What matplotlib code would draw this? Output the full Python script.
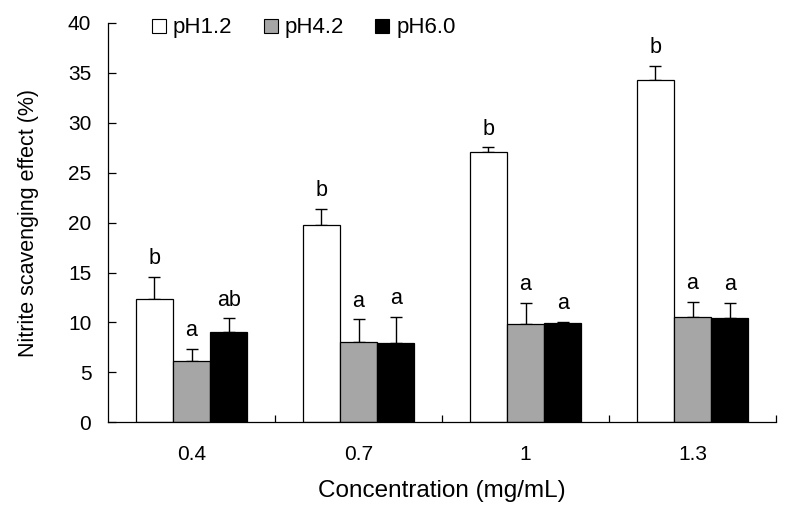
import matplotlib
matplotlib.use("Agg")
import matplotlib.pyplot as plt
import numpy as np
from matplotlib.lines import Line2D

plt.rcParams['font.family'] = ['Liberation Sans', 'DejaVu Sans']

categories = ['0.4', '0.7', '1', '1.3']
series = ['pH1.2', 'pH4.2', 'pH6.0']
ph12 = [12.4, 19.8, 27.1, 34.3]
ph42 = [6.1, 8.0, 9.8, 10.5]
ph60 = [9.05, 7.9, 9.95, 10.4]
err12 = [2.2, 1.6, 0.45, 1.4]
err42 = [1.25, 2.3, 2.15, 1.55]
err60 = [1.35, 2.65, 0.1, 1.55]
let12 = ['b', 'b', 'b', 'b']
let42 = ['a', 'a', 'a', 'a']
let60 = ['ab', 'a', 'a', 'a']
colors = ['white', '#A6A6A6', 'black']

fig = plt.figure(figsize=(7.93, 5.17), dpi=100)
ax = fig.add_axes([108/793, 1-422.3/517, (776-108)/793, (422.3-23)/517])

x = np.arange(len(categories))
w = 1/4.5
vals = [ph12, ph42, ph60]
errs = [err12, err42, err60]
lets = [let12, let42, let60]
for i in range(3):
    xs = x + (i-1)*w
    ax.bar(xs, vals[i], width=w, color=colors[i], edgecolor='black', linewidth=0.9, zorder=2)
    ax.errorbar(xs, vals[i], yerr=[np.zeros(4), errs[i]], fmt='none', ecolor='black',
                elinewidth=1.0, capsize=4, capthick=1.0, zorder=1)
    for xi, v, e, t in zip(xs, vals[i], errs[i], lets[i]):
        ax.annotate(t, (xi, v+e), xytext=(0, 5.5), textcoords='offset points',
                    ha='center', va='bottom', fontsize=15.5)

ax.set_xlim(-0.5, 3.5)
ax.set_ylim(0, 40)
ax.set_yticks(np.arange(0, 41, 5))
ax.tick_params(axis='y', direction='in', length=6, width=0.9, labelsize=15, pad=12)
ax.set_xticks(x)
ax.set_xticklabels(categories)
ax.tick_params(axis='x', which='major', length=0, labelsize=15, pad=16)
ax.set_xticks([0.5, 1.5, 2.5, 3.5], minor=True)
ax.tick_params(axis='x', which='minor', direction='in', length=5, width=0.9)
for s in ['top', 'right']:
    ax.spines[s].set_visible(False)
for s in ['left', 'bottom']:
    ax.spines[s].set_linewidth(0.9)

ax.set_xlabel('Concentration (mg/mL)', fontsize=17.5, labelpad=12)
ax.set_ylabel('Nitrite scavenging effect (%)', fontsize=15.5, labelpad=21)

handles = [Line2D([], [], linestyle='none', marker='s', markersize=10.5,
                  markerfacecolor=c, markeredgecolor='black', markeredgewidth=0.8)
           for c in colors]
ax.legend(handles, series, loc='center left', bbox_to_anchor=(0.064, 0.988), ncol=3,
          frameon=False, fontsize=16, handlelength=0.75, handletextpad=0.25,
          columnspacing=1.35, borderaxespad=0, borderpad=0)

fig.savefig('out.png', dpi=100)
